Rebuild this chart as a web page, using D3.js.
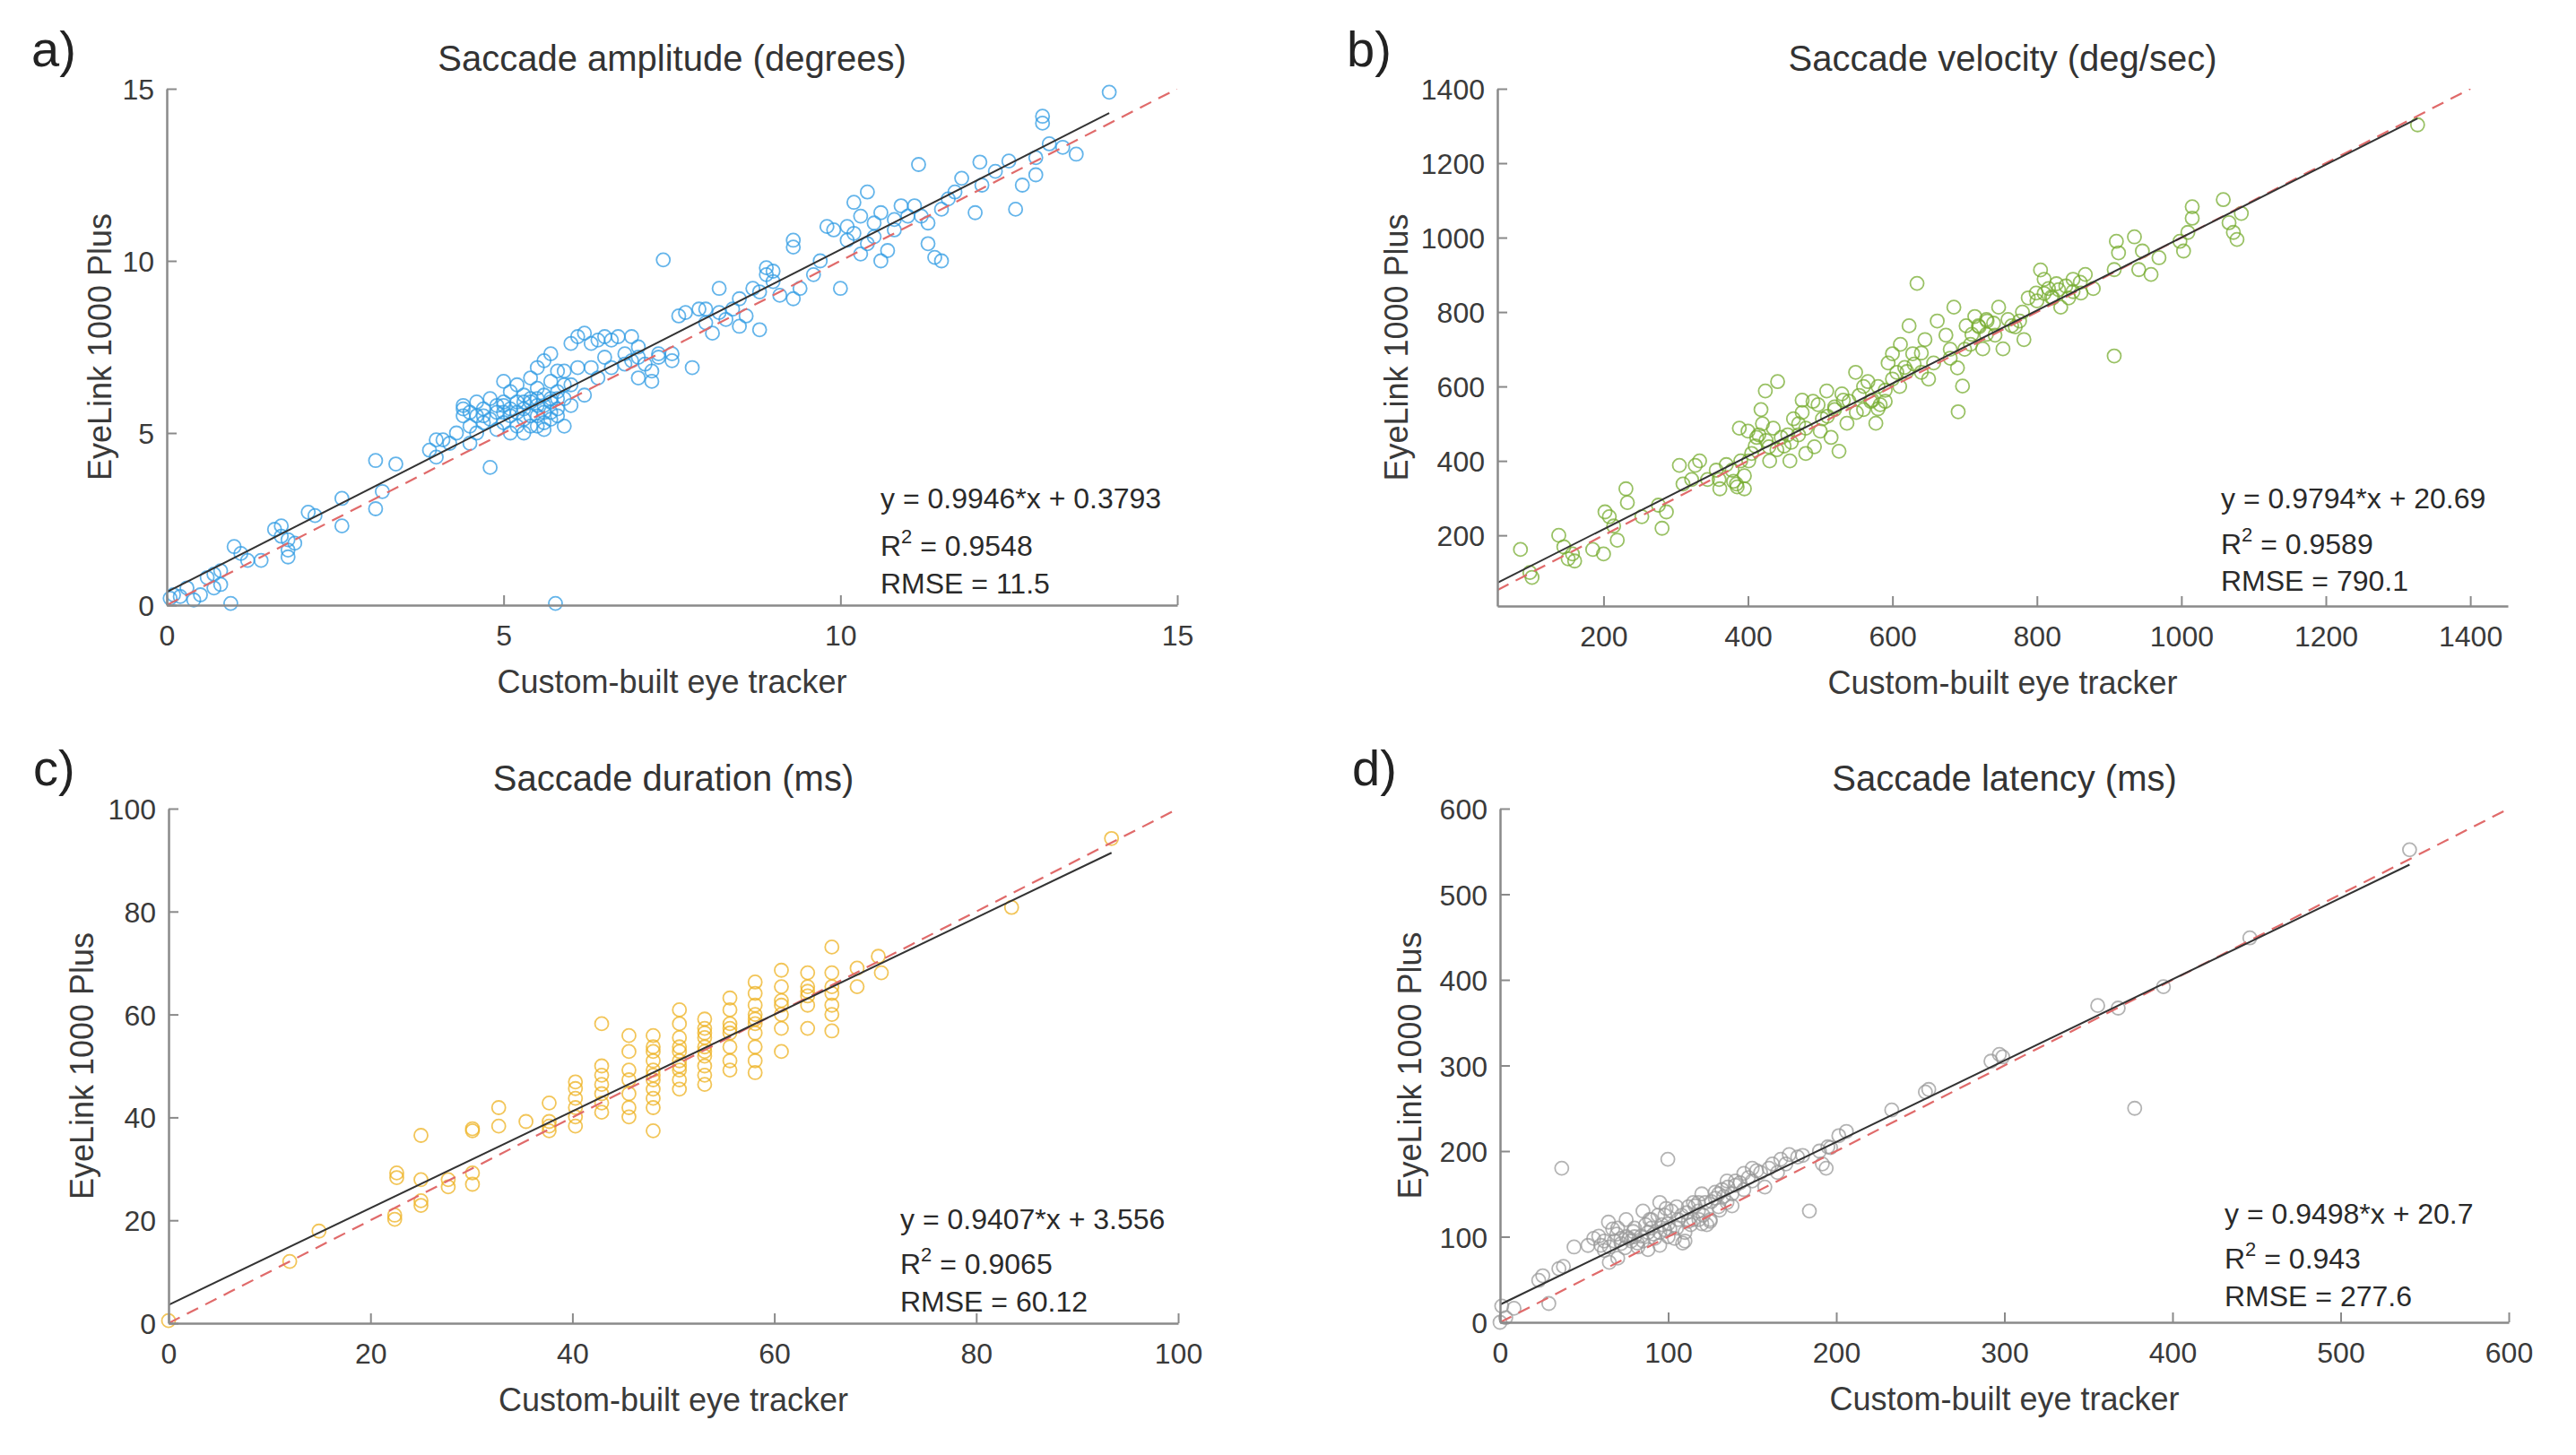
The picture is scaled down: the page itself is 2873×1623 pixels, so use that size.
<!DOCTYPE html>
<html><head><meta charset="utf-8">
<script src="https://cdn.jsdelivr.net/npm/d3@7/dist/d3.min.js"></script>
<style>body{margin:0;background:#fff}svg{display:block}</style></head>
<body><svg id="chart" width="2873" height="1623"></svg>
<script>
const panelLabels = ["a)", "b)", "c)", "d)"];
const titles = ["Saccade amplitude (degrees)", "Saccade velocity (deg/sec)", "Saccade duration (ms)", "Saccade latency (ms)"];
const xLabel = "Custom-built eye tracker";
const yLabel = "EyeLink 1000 Plus";
const xDomains = [[0, 15], [53, 1452], [0, 100], [0, 600]];
const yDomains = [[0, 15], [10, 1400], [0, 100], [0, 600]];
const xTicks = [[0, 5, 10, 15], [200, 400, 600, 800, 1000, 1200, 1400], [0, 20, 40, 60, 80, 100], [0, 100, 200, 300, 400, 500, 600]];
const yTicks = [[0, 5, 10, 15], [200, 400, 600, 800, 1000, 1200, 1400], [0, 20, 40, 60, 80, 100], [0, 100, 200, 300, 400, 500, 600]];
const fitSlopes = [0.9946, 0.9794, 0.9407, 0.9498];
const fitIntercepts = [0.3793, 20.69, 3.556, 20.7];
const fitEquations = ["y = 0.9946*x + 0.3793", "y = 0.9794*x + 20.69", "y = 0.9407*x + 3.556", "y = 0.9498*x + 20.7"];
const r2Values = ["0.9548", "0.9589", "0.9065", "0.943"];
const rmseValues = ["11.5", "790.1", "60.12", "277.6"];
const markerColors = ["#2f9be3", "#77ac30", "#edb120", "#9a9a9a"];

const amplitudePoints = [
[0.05,0.2],[0.1,0.3],[0.2,0.25],[0.3,0.5],[0.4,0.15],[0.5,0.3],[0.6,0.8],[0.7,0.5],[0.7,0.9],[0.8,0.6],[0.8,1.0],[0.95,0.05],
[1.0,1.7],[1.1,1.5],[1.2,1.3],[1.4,1.3],[1.6,2.2],[1.7,2.0],[1.8,1.6],[1.8,1.9],[1.8,1.4],[1.9,1.8],[1.7,2.3],[2.1,2.7],
[2.2,2.6],[2.6,3.1],[2.6,2.3],[3.1,4.2],[3.2,3.3],[3.1,2.8],[3.4,4.1],[3.9,4.5],[4.0,4.8],[4.1,4.8],[4.0,4.3],[4.4,5.7],
[4.5,4.7],[4.8,4.0],[4.6,5.5],[5.77,0.05],[4.2,4.7],[4.3,5.0],
[4.4,5.5],[4.4,5.8],[4.5,5.2],[4.5,5.6],[4.6,5.9],[4.7,5.3],[4.7,5.7],[4.8,6.0],[4.8,5.4],[4.9,5.6],[4.9,5.1],[5.0,6.5],
[5.0,5.8],[5.0,5.3],[5.1,6.2],[5.1,5.5],[5.1,5.0],[5.2,5.9],[5.2,6.4],[5.2,5.2],[5.3,6.1],[5.3,5.7],[5.3,5.0],[5.4,6.6],
[5.4,6.0],[5.4,5.5],[5.5,6.3],[5.5,5.8],[5.5,5.2],[5.5,6.9],[5.6,7.1],[5.6,6.1],[5.6,5.6],[5.6,5.1],[5.7,7.3],[5.7,6.5],
[5.7,5.9],[5.7,5.4],[5.8,6.8],[5.8,6.2],[5.8,5.7],[5.9,6.0],[5.9,5.2],[6.0,6.4],[6.0,5.8],[6.1,6.9],[5.2,5.6],[5.4,5.9],
[5.6,5.8],[5.5,6.0],[5.3,5.4],[4.6,5.0],[5.0,5.9],[5.8,6.0],[5.7,6.0],[5.9,6.4],[6.0,7.6],[5.9,6.8],[5.6,5.3],[5.4,5.2],
[6.2,6.1],[6.3,6.9],[6.4,6.6],[6.5,7.2],[6.6,6.9],[6.8,7.3],[6.9,7.1],[7.0,7.2],[7.1,7.0],[6.6,7.7],[6.3,7.6],[6.1,7.8],
[7.3,7.3],[7.2,6.8],[6.2,7.9],[6.4,7.7],[6.5,7.8],[6.7,7.8],[6.9,7.8],[7.0,7.5],[6.8,7.0],[7.0,6.6],[7.2,6.5],[7.3,7.2],
[7.37,10.03],[7.5,7.1],[7.5,7.3],[7.8,6.9],[7.7,8.5],[7.9,8.6],[8.0,8.2],[8.1,7.9],[8.2,8.5],[8.2,9.2],[8.4,8.6],[8.5,8.1],
[8.6,8.4],[8.7,9.2],[8.8,8.0],[8.9,9.6],[8.9,9.8],[9.0,9.4],[9.1,9.0],[9.3,10.6],[9.3,10.4],[9.4,9.2],[9.3,8.9],[9.6,9.6],
[9.7,10.0],[9.8,11.0],[10.0,9.2],[10.1,11.0],[10.2,11.7],[10.3,11.3],[10.4,10.5],[10.4,12.0],[10.6,10.0],[10.7,10.3],
[10.8,10.9],[11.0,11.3],[11.1,11.6],[11.2,11.3],[11.3,10.5],[11.4,10.1],[11.5,10.0],[11.5,11.5],[11.6,11.8],[11.8,12.4],
[11.16,12.8],[12.0,11.4],[12.1,12.2],[12.07,12.87],[12.7,12.2],[12.6,11.5],[12.9,12.5],[12.9,13.0],[13.0,14.2],[13.0,14.0],
[13.1,13.4],[13.3,13.3],[13.5,13.1],[13.99,14.9],[10.2,10.8],[10.5,11.1],[10.9,11.6],[10.3,10.2],[9.9,10.9],[11.7,12.0],
[10.6,11.4],[10.1,10.6],[8.3,8.3],[8.5,8.9],[8.8,9.1],[9.0,9.7],[7.6,8.4],[8.0,8.6],[10.5,10.7],[10.8,11.2],[11.3,11.1],
[12.3,12.6],[12.5,12.9],[4.9,5.8],[5.1,5.7],[5.3,5.9],[5.5,5.5],[5.7,5.6],[5.8,5.5],[5.0,5.6],[4.7,5.5]
];

const velocityPoints = [
[85,162],[98,100],[101,87],[138,200],[145,169],[157,150],[160,131],[151,137],[185,162],[200,150],[202,263],[208,250],
[214,225],[219,187],[231,325],[233,288],[253,250],[276,281],[281,219],[287,263],[305,388],[310,338],[322,350],[327,388],
[333,400],[344,350],[356,375],[361,325],[378,375],[384,338],[388,488],[395,325],[401,400],[412,463],[418,538],[424,588],
[429,438],[435,488],[441,613],[446,463],[458,400],[463,513],[475,563],[480,488],[492,438],[497,551],[503,513],[509,588],
[515,463],[520,538],[526,426],[532,563],[537,501],[549,638],[554,576],[560,538],[566,613],[572,563],[577,501],[583,551],
[594,663],[600,688],[606,638],[611,713],[617,651],[623,763],[628,688],[634,877],[640,638],[645,726],[657,663],[662,776],
[674,738],[680,676],[685,813],[691,532],[697,601],[702,763],[708,713],[714,788],[719,763],[725,701],[731,776],[742,738],
[747,813],[753,701],[765,763],[776,776],[782,726],[788,838],[799,851],[805,913],[810,888],[816,863],[822,838],[827,876],
[833,813],[844,838],[850,888],[861,851],[867,901],[878,863],[907,682],[907,914],[910,990],[913,959],[935,1002],[941,914],
[946,964],[958,901],[969,946],[998,990],[1003,964],[1009,1014],[1015,1083],[1015,1052],[1058,1102],[1066,1040],[1072,1014],
[1077,995],[1083,1065],[1327,1303],
[380,345],[385,330],[390,400],[395,360],[400,480],[405,420],[410,440],[415,470],[420,500],[425,455],
[450,440],[455,470],[470,500],[475,530],[480,420],[490,560],[500,480],[510,520],[520,545],[530,580],[540,560],[550,530],
[560,600],[570,560],[580,540],[590,590],[600,620],[700,700],[710,740],[720,760],[730,780],[740,770],[760,780],[780,800],
[800,830],[810,850],[820,840],[830,860],[840,870],[850,855],[860,880],[620,640],[630,660],[640,690],[650,620],[610,600],
[430,400],[440,430],[360,350],[370,390],[460,450],[470,470],[580,600],[590,560],[680,700],[690,650],[730,740],[770,760]
];

const durationPoints = [
[0,0.5],[12,12],[14.9,17.9],[22.4,20.2],[22.4,21],[22.6,28.3],[22.6,29.2],[25,36.5],[25,27.9],[25,23.8],[25,22.9],
[27.7,26.5],[27.7,27.9],[30.1,37.8],[30.1,37.4],[30.1,27],[30.1,29.2],[32.7,41.9],[32.7,38.3],[35.4,39.2],
[37.7,42.8],[37.7,39.2],[37.7,37.4],[37.7,38.3],
[40.3,46.9],[40.3,43.7],[40.3,41.9],[40.3,40.1],[40.3,38.3],[40.3,45.6],
[42.9,58.2],[42.9,48.2],[42.9,46.4],[42.9,44.6],[42.9,42.8],[42.9,41],[42.9,50],
[45.6,55.9],[45.6,52.8],[45.6,49.2],[45.6,47.3],[45.6,44.6],[45.6,41.9],[45.6,40.1],
[48,55.9],[48,53.7],[48,51],[48,48.2],[48,45.5],[48,43.7],[48,41.9],[48,37.4],[48,52.8],[48,49.2],[48,47.3],
[50.6,60.9],[50.6,58.2],[50.6,55.5],[50.6,52.8],[50.6,51],[50.6,49.2],[50.6,47.3],[50.6,45.5],[50.6,53.7],[50.6,50],
[53.1,59.1],[53.1,57.3],[53.1,55.5],[53.1,53.7],[53.1,51.9],[53.1,50],[53.1,48.2],[53.1,46.4],[53.1,56.4],[53.1,52.8],
[55.6,63.2],[55.6,60.9],[55.6,58.2],[55.6,56.4],[55.6,53.7],[55.6,51],[55.6,49.2],[55.6,57.3],
[58.1,66.3],[58.1,64.1],[58.1,61.8],[58.1,59.1],[58.1,56.4],[58.1,53.7],[58.1,51],[58.1,48.7],[58.1,60],[58.1,58.2],
[60.7,68.6],[60.7,65.4],[60.7,62.7],[60.7,60],[60.7,57.3],[60.7,52.8],[60.7,61.8],
[63.3,68.1],[63.3,65.4],[63.3,63.6],[63.3,61.8],[63.3,57.3],[63.3,64.5],
[65.7,73.1],[65.7,68.1],[65.7,65.4],[65.7,61.8],[65.7,60],[65.7,56.8],[65.7,64.1],
[68.2,69],[68.2,65.4],[70.3,71.3],[70.6,68.1],[83.5,80.8],[93.4,94.2]
];

const latencyPoints = [
[0,0],[3.4,5.4],[1,19],[8.3,16.3],[23,49],[25.4,54.4],[29,22],[35,62.6],[37.7,65.3],[36.7,180],[44,88],[52.3,89.8],
[55.7,98],[58.7,100.7],[62,84],[64.5,117],[67,109],[69.4,103],[71.9,98],[74.3,87],[76.8,98],[79.2,106],[81.7,92.5],
[84,100.7],[86.6,114],[89,120],[91.4,103],[93.9,125],[96.3,114],[98.8,133],[99.8,190.5],[101,109],[103.7,98],[106,120],
[108.6,92.5],[111,128],[113.4,114],[116,136],[118.3,120],[120.8,125],[123,114],[125.7,141],[128,152],[130.6,131],
[133,147],[135.5,158],[138,136],[142.8,163],[145,174],[147.7,169],[152.6,177],[157.5,158],[162,185],[167,190.5],
[172,196],[177,193],[184,130],[191.7,185],[194,180],[196.6,204],[201.5,218],[206,223],[233,248],[253,269],[255,272],
[292,305],[297,313],[299,310],[355.5,370],[367.7,367],[377.5,250],[394.6,392],[446,449],[541,552],
[60,90],[62,95],[65,88],[68,95],[70,110],[72,92],[75,100],[78,95],[80,110],[82,88],[85,95],[88,105],[90,120],[92,98],
[95,105],[98,125],[100,115],[102,130],[105,110],[108,125],[110,105],[112,135],[115,120],[118,130],[120,115],[122,140],
[125,120],[128,145],[130,135],[132,155],[135,140],[138,150],[140,160],[145,155],[150,165],[155,175],[160,180],[165,175],
[170,185],[180,195],[190,200],[195,205],[65,70],[70,75],[88,85],[95,90],[110,95],[125,118],[85,130],[95,140],[75,120],[100,100],
[105,135],[115,140],[120,150],[130,150],[135,165],[112,118],[90,110],[80,100],[98,108],[118,140],[140,165],[150,180]
];

const pointSets = [amplitudePoints, velocityPoints, durationPoints, latencyPoints];

// layout (pixel boxes of each axes)
const boxes = [
  {l: 186, t: 99, w: 1127, h: 576, label: [35, 74], ylabOff: 62, ann: [982, [108, 55, 13]]},
  {l: 1670, t: 99, w: 1127, h: 577, label: [1502, 74], ylabOff: 100, ann: [2477, [109, 58, 17]]},
  {l: 188, t: 902, w: 1126, h: 574, label: [37, 876], ylabOff: 84, ann: [1004, [105, 55, 13]]},
  {l: 1673, t: 902, w: 1125, h: 573, label: [1508, 876], ylabOff: 88, ann: [2481, [110, 60, 18]]}
];

const svg = d3.select("#chart");
const FONT = "'Liberation Sans', Arial, Helvetica, sans-serif";
const axisColor = "#8a8a8a";
const textColor = "#3a3a3a";

boxes.forEach((b, i) => {
  const x = d3.scaleLinear().domain(xDomains[i]).range([b.l, b.l + b.w]);
  const y = d3.scaleLinear().domain(yDomains[i]).range([b.t + b.h, b.t]);
  const g = svg.append("g");

  const clipId = "clip" + i;
  svg.append("clipPath").attr("id", clipId).append("rect")
    .attr("x", b.l).attr("y", b.t).attr("width", b.w).attr("height", b.h);

  // points
  g.append("g").selectAll("circle").data(pointSets[i]).join("circle")
    .attr("cx", d => x(d[0])).attr("cy", d => y(d[1])).attr("r", 7.5)
    .attr("fill", "none").attr("stroke", markerColors[i]).attr("stroke-width", 1.8)
    .attr("stroke-opacity", 0.75);

  const lines = g.append("g").attr("clip-path", `url(#${clipId})`);
  // identity line
  const idEnd = Math.min(xDomains[i][1], yDomains[i][1]);
  lines.append("line")
    .attr("x1", x(xDomains[i][0])).attr("y1", y(xDomains[i][0]))
    .attr("x2", x(idEnd)).attr("y2", y(idEnd))
    .attr("stroke", "#e06a6a").attr("stroke-width", 2.2).attr("stroke-dasharray", "14,9");
  // regression line
  const xMax = d3.max(pointSets[i], d => d[0]);
  const x0 = xDomains[i][0];
  lines.append("line")
    .attr("x1", x(x0)).attr("y1", y(fitSlopes[i] * x0 + fitIntercepts[i]))
    .attr("x2", x(xMax)).attr("y2", y(fitSlopes[i] * xMax + fitIntercepts[i]))
    .attr("stroke", "#333").attr("stroke-width", 2);

  // axes
  const fmt = d3.format("d");
  const xAxis = g.append("g").attr("transform", `translate(0,${b.t + b.h})`)
    .call(d3.axisBottom(x).tickValues(xTicks[i]).tickFormat(fmt).tickSize(-11).tickPadding(22).tickSizeOuter(0));
  const yAxis = g.append("g").attr("transform", `translate(${b.l},0)`)
    .call(d3.axisLeft(y).tickValues(yTicks[i]).tickFormat(fmt).tickSize(-11).tickPadding(14).tickSizeOuter(0));
  [xAxis, yAxis].forEach(ax => {
    ax.select(".domain").attr("stroke", axisColor).attr("stroke-width", 2.5);
    ax.selectAll(".tick line").attr("stroke", axisColor).attr("stroke-width", 2);
    ax.selectAll(".tick text").attr("fill", textColor).attr("font-size", 32).attr("font-family", FONT);
  });
  yAxis.selectAll(".tick text").attr("dy", "0.36em");

  // title
  svg.append("text").attr("x", b.l + b.w / 2).attr("y", b.t - 20)
    .attr("text-anchor", "middle").attr("font-family", FONT).attr("font-size", 40)
    .attr("fill", "#333").text(titles[i]);
  // panel label
  svg.append("text").attr("x", b.label[0]).attr("y", b.label[1])
    .attr("font-family", FONT).attr("font-size", 56).attr("fill", "#222").text(panelLabels[i]);
  // x label
  svg.append("text").attr("x", b.l + b.w / 2).attr("y", b.t + b.h + 98)
    .attr("text-anchor", "middle").attr("font-family", FONT).attr("font-size", 36)
    .attr("fill", textColor).text(xLabel);
  // y label
  svg.append("text").attr("transform", `translate(${b.l - b.ylabOff},${b.t + b.h / 2}) rotate(-90)`)
    .attr("text-anchor", "middle").attr("font-family", FONT).attr("font-size", 36)
    .attr("fill", textColor).text(yLabel);

  // annotation
  const ax0 = b.ann[0], base = b.t + b.h;
  const ann = svg.append("g").attr("font-family", FONT).attr("font-size", 32).attr("fill", "#2a2a2a");
  ann.append("text").attr("x", ax0).attr("y", base - b.ann[1][0]).text(fitEquations[i]);
  const r2 = ann.append("text").attr("x", ax0).attr("y", base - b.ann[1][1]);
  r2.append("tspan").text("R");
  r2.append("tspan").attr("font-size", 22).attr("dy", -14).text("2");
  r2.append("tspan").attr("dy", 14).text(" = " + r2Values[i]);
  ann.append("text").attr("x", ax0).attr("y", base - b.ann[1][2]).text("RMSE = " + rmseValues[i]);
});
</script>
</body></html>
